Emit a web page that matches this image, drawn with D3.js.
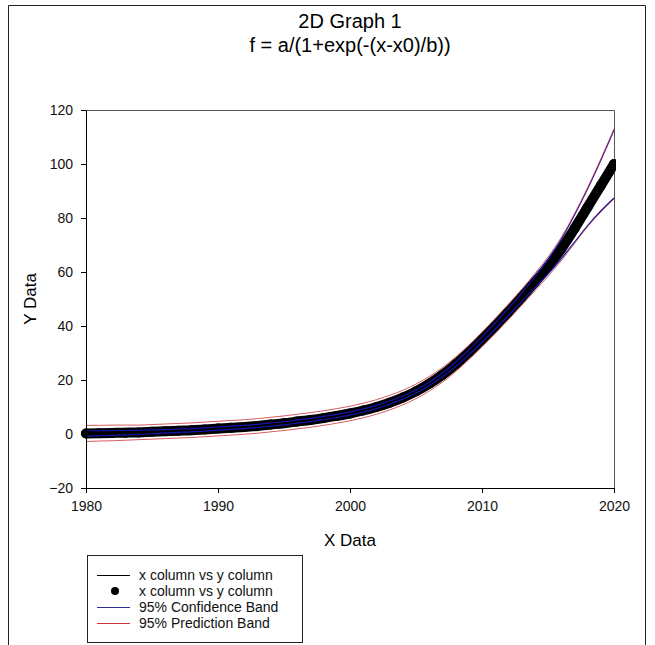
<!DOCTYPE html>
<html lang="en">
<head>
    <meta charset="UTF-8">
    <title>2D Graph 1</title>
    <style>
        body { margin: 0; background: #fff; }
        svg { display: block; font-family: Arial, "Liberation Sans", sans-serif; }
    </style>
</head>
<body>
    <div id="chart"></div>
    <script src="https://cdn.jsdelivr.net/npm/d3@7"></script>
    <script>

    // data, one value per year
    const years = d3.range(1980, 2021);

    const yValues = [0.2, 0.3, 0.4, 0.5, 0.6, 0.8, 1.0, 1.2, 1.4, 1.7,
        2.0, 2.3, 2.6, 3.0, 3.5, 4.0, 4.6, 5.2, 5.9, 6.7,
        7.6, 8.7, 10.0, 11.6, 13.5, 15.8, 18.6, 21.9, 25.8, 30.2,
        35.0, 40.0, 45.2, 50.6, 56.2, 62.0, 68.5, 76.0, 84.0, 92.0, 100.0];

    const confUpper = [1.2, 1.2, 1.3, 1.3, 1.4, 1.5, 1.6, 1.8, 2.0, 2.3,
        2.6, 2.9, 3.2, 3.6, 4.1, 4.6, 5.2, 5.8, 6.5, 7.3,
        8.2, 9.3, 10.6, 12.2, 14.1, 16.4, 19.2, 22.6, 26.6, 31.1,
        36.0, 41.1, 46.5, 52.2, 58.2, 64.7, 72.1, 81.0, 90.8, 101.4, 112.6];

    const confLower = [-0.8, -0.6, -0.5, -0.3, -0.2, 0.1, 0.4, 0.6, 0.8, 1.1,
        1.4, 1.7, 2.0, 2.4, 2.9, 3.4, 4.0, 4.6, 5.3, 6.1,
        7.0, 8.1, 9.4, 11.0, 12.9, 15.2, 18.0, 21.2, 25.0, 29.3,
        34.0, 38.9, 43.9, 49.0, 54.2, 59.3, 64.9, 71.0, 77.2, 82.6, 87.4];

    const predUpper = [3.2, 3.2, 3.3, 3.3, 3.3, 3.5, 3.7, 3.9, 4.1, 4.4,
        4.7, 5.0, 5.3, 5.7, 6.2, 6.7, 7.3, 7.9, 8.6, 9.4,
        10.3, 11.4, 12.7, 14.3, 16.2, 18.5, 21.3, 24.6, 28.5, 32.9,
        37.7, 42.8, 48.1, 53.6, 59.4, 65.6, 72.8, 81.5, 91.2, 101.8, 113.0];

    const predLower = [-2.8, -2.6, -2.5, -2.3, -2.1, -1.9, -1.7, -1.5, -1.3, -1.0,
        -0.7, -0.4, -0.1, 0.3, 0.8, 1.3, 1.9, 2.5, 3.2, 4.0,
        4.9, 6.0, 7.3, 8.9, 10.8, 13.1, 15.9, 19.2, 23.1, 27.5,
        32.3, 37.2, 42.3, 47.6, 53.0, 58.4, 64.2, 70.5, 76.8, 82.2, 87.0];

    const xTicks = [1980, 1990, 2000, 2010, 2020];
    const yTicks = [-20, 0, 20, 40, 60, 80, 100, 120];

    const legendItems = [
        {label: "x column vs y column", kind: "line", color: "#000000"},
        {label: "x column vs y column", kind: "dot", color: "#000000"},
        {label: "95% Confidence Band", kind: "line", color: "#30308e"},
        {label: "95% Prediction Band", kind: "line", color: "#d03038"}
    ];

    // page setup
    const W = 655, H = 645;
    const margin = {top: 110, right: 41, bottom: 157, left: 86},
        width = W - margin.left - margin.right,
        height = H - margin.top - margin.bottom;

    const svg = d3.select("#chart")
        .append("svg")
        .attr("width", W)
        .attr("height", H);

    // outer page frame
    svg.append("path")
        .attr("d", "M8.5,645 V5.5 H645.5 V645")
        .attr("fill", "none")
        .attr("stroke", "#222")
        .attr("stroke-width", 1);

    // titles
    svg.append("text")
        .attr("x", margin.left + width / 2)
        .attr("y", 28)
        .attr("text-anchor", "middle")
        .style("font-size", "20px")
        .text("2D Graph 1");

    svg.append("text")
        .attr("x", margin.left + width / 2)
        .attr("y", 52)
        .attr("text-anchor", "middle")
        .style("font-size", "20px")
        .text("f = a/(1+exp(-(x-x0)/b))");

    const g = svg.append("g")
        .attr("transform", `translate(${margin.left}, ${margin.top})`);

    const x = d3.scaleLinear().domain([1980, 2020]).range([0, width]);
    const y = d3.scaleLinear().domain([-20, 120]).range([height, 0]);

    // frame top and right
    g.append("path")
        .attr("d", `M0,0.5 H${width + 0.5} V${height}`)
        .attr("fill", "none")
        .attr("stroke", "#555")
        .attr("stroke-width", 1);

    // clip everything to the plot area
    g.append("clipPath").attr("id", "plotclip")
        .append("rect")
        .attr("x", -8).attr("y", -2)
        .attr("width", width + 10).attr("height", height + 4);

    const plot = g.append("g").attr("clip-path", "url(#plotclip)");

    const pts = years.map((yr, i) => ({x: yr, y: yValues[i]}));

    // the dense data points read as a thick trail of dots
    plot.append("path")
        .datum(pts)
        .attr("fill", "none")
        .attr("stroke", "#000")
        .attr("stroke-width", 10)
        .attr("stroke-linecap", "round")
        .attr("stroke-linejoin", "round")
        .attr("d", d3.line().x(d => x(d.x)).y(d => y(d.y)).curve(d3.curveMonotoneX));

    plot.append("g")
        .selectAll("circle")
        .data(pts)
        .join("circle")
        .attr("cx", d => x(d.x))
        .attr("cy", d => y(d.y))
        .attr("r", 5)
        .attr("fill", "#000");

    const lineOf = arr => d3.line()
        .x((d, i) => x(years[i]))
        .y(d => y(d))
        .curve(d3.curveMonotoneX)(arr);

    // fitted line
    plot.append("path")
        .attr("d", lineOf(yValues))
        .attr("fill", "none")
        .attr("stroke", "#000")
        .attr("stroke-width", 1);

    // confidence band
    [confUpper, confLower].forEach(arr => {
        plot.append("path")
            .attr("d", lineOf(arr))
            .attr("fill", "none")
            .attr("stroke", "#1414b0")
            .attr("stroke-width", 1.2);
    });

    // prediction band
    [predUpper, predLower].forEach(arr => {
        plot.append("path")
            .attr("d", lineOf(arr))
            .attr("fill", "none")
            .attr("stroke", "#d0353a")
            .attr("stroke-width", 1)
            .attr("stroke-opacity", 0.8);
    });

    // axes
    const xAxis = g.append("g")
        .attr("transform", `translate(0, ${height})`)
        .call(d3.axisBottom(x).tickValues(xTicks).tickFormat(d3.format("d")).tickSize(5).tickSizeOuter(0).tickPadding(8));

    const yAxis = g.append("g")
        .call(d3.axisLeft(y).tickValues(yTicks).tickSize(5).tickSizeOuter(0).tickPadding(8));

    [xAxis, yAxis].forEach(a => {
        a.selectAll("path, line").attr("stroke", "#000");
        a.selectAll("text")
            .attr("fill", "#111")
            .style("font-size", "14px")
            .style("font-family", "Arial, 'Liberation Sans', sans-serif");
    });

    // axis titles
    svg.append("text")
        .attr("x", margin.left + width / 2)
        .attr("y", 546)
        .attr("text-anchor", "middle")
        .style("font-size", "17px")
        .text("X Data");

    svg.append("text")
        .attr("transform", `translate(36, ${margin.top + height / 2}) rotate(-90)`)
        .attr("text-anchor", "middle")
        .style("font-size", "17px")
        .text("Y Data");

    // legend
    const lg = svg.append("g").attr("transform", "translate(87, 555)");

    lg.append("rect")
        .attr("x", 0.5).attr("y", 0.5)
        .attr("width", 215).attr("height", 87)
        .attr("fill", "#fff")
        .attr("stroke", "#222");

    const rows = lg.selectAll("g.row")
        .data(legendItems)
        .join("g")
        .attr("class", "row")
        .attr("transform", (d, i) => `translate(0, ${20 + i * 16})`);

    rows.filter(d => d.kind === "line")
        .append("line")
        .attr("x1", 10).attr("x2", 43)
        .attr("y1", 0.5).attr("y2", 0.5)
        .attr("stroke", d => d.color)
        .attr("stroke-width", 1);

    rows.filter(d => d.kind === "dot")
        .append("circle")
        .attr("cx", 28).attr("cy", 0)
        .attr("r", 4)
        .attr("fill", d => d.color);

    rows.append("text")
        .attr("x", 52)
        .attr("y", 5)
        .style("font-size", "14px")
        .attr("fill", "#111")
        .text(d => d.label);

    </script>
</body>
</html>
